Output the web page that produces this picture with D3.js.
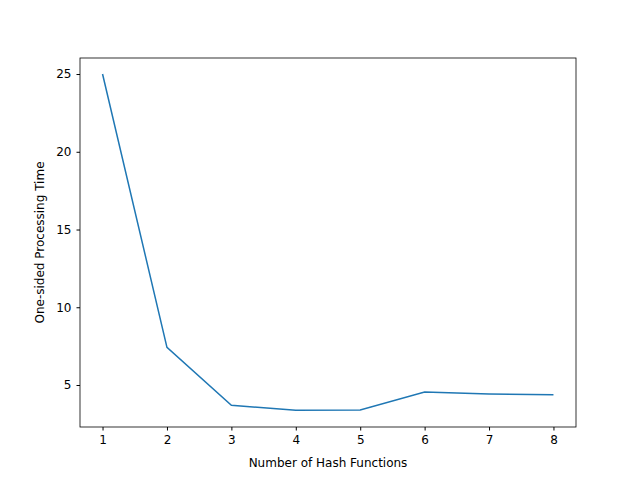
<!DOCTYPE html>
<html><head><meta charset="utf-8">
<script src="https://cdn.jsdelivr.net/npm/d3@7"></script>
<style>body{margin:0;background:#fff}text{font-family:"DejaVu Sans";}</style>
</head><body>
<svg width="640" height="480"></svg>
<script>
const hashCounts = [1, 2, 3, 4, 5, 6, 7, 8];
const times = [25.0, 7.42, 3.7, 3.38, 3.4, 4.55, 4.42, 4.37];
const yTicks = [5, 10, 15, 20, 25];

const m = {left: 80, right: 576, top: 58, bottom: 427};
const svg = d3.select("svg");
const x = d3.scaleLinear().domain([0.65, 8.35]).range([m.left, m.right]);
const y = d3.scaleLinear().domain([2.3, 26.03]).range([m.bottom, m.top]);

svg.append("g").attr("transform", `translate(0,${m.bottom})`)
  .call(d3.axisBottom(x).tickValues(hashCounts).tickFormat(d3.format("d")).tickSize(3.5).tickPadding(5))
  .call(g => g.select(".domain").remove());
svg.append("g").attr("transform", `translate(${m.left},0)`)
  .call(d3.axisLeft(y).tickValues(yTicks).tickSize(3.5).tickPadding(5))
  .call(g => g.select(".domain").remove());
svg.selectAll(".tick text").attr("font-size", 12).attr("fill", "#000").style("font-family", "DejaVu Sans");
svg.selectAll(".tick line").attr("stroke", "#000");

svg.append("rect").attr("x", m.left).attr("y", m.top)
  .attr("width", m.right - m.left).attr("height", m.bottom - m.top)
  .attr("fill", "none").attr("stroke", "#000").attr("stroke-width", 0.8);

svg.append("path").datum(times)
  .attr("d", d3.line().x((d, i) => x(hashCounts[i])).y(d => y(d)))
  .attr("fill", "none").attr("stroke", "#1f77b4").attr("stroke-width", 1.5);

svg.append("text").attr("x", (m.left + m.right) / 2).attr("y", 467)
  .attr("text-anchor", "middle").attr("font-size", 12).text("Number of Hash Functions");
svg.append("text").attr("transform", `translate(44,${(m.top + m.bottom) / 2}) rotate(-90)`)
  .attr("text-anchor", "middle").attr("font-size", 12).text("One-sided Processing Time");
</script>
</body></html>
